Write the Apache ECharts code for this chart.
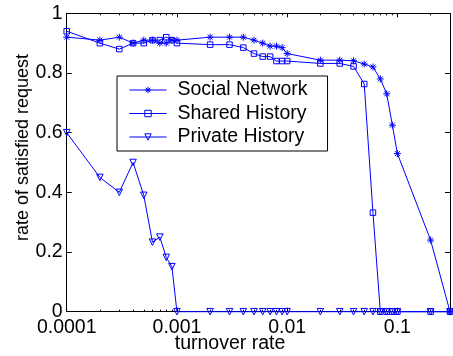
<!DOCTYPE html>
<html>
<head>
<meta charset="utf-8">
<script src="https://cdn.jsdelivr.net/npm/echarts@6/dist/echarts.min.js"></script>
<style>html,body{margin:0;padding:0;background:#fff}#c{width:453px;height:356px}</style>
</head>
<body>
<div id="c"></div>
<script>
const turnover = [0.0001,0.0002,0.0003,0.0004,0.0005,0.0006,0.0007,0.0008,0.0009,
  0.001,0.002,0.003,0.004,0.005,0.006,0.007,0.008,0.009,
  0.01,0.02,0.03,0.04,0.05,0.06,0.07,0.08,0.09,
  0.1,0.2,0.3];
const socialNetwork = [0.92,0.91,0.92,0.90,0.91,0.91,0.90,0.90,0.91,
  0.91,0.92,0.92,0.92,0.91,0.90,0.89,0.89,0.885,
  0.865,0.843,0.843,0.841,0.83,0.82,0.78,0.73,0.625,
  0.53,0.24,0];
const sharedHistory = [0.94,0.90,0.88,0.90,0.90,0.91,0.91,0.92,0.91,
  0.90,0.895,0.895,0.885,0.865,0.855,0.855,0.84,0.84,
  0.84,0.832,0.832,0.822,0.763,0.332,0,0,0,
  0,0,0];
const privateHistory = [0.60,0.45,0.40,0.50,0.39,0.233,0.25,0.182,0.151,
  0,0,0,0,0,0,0,0,0,
  0,0,0,0,0,0,0,0,0,
  0,0,0];
const seriesNames = ['Social Network','Shared History','Private History'];
const xTickValues = [0.0001,0.001,0.01,0.1];
const xTickLabels = ['0.0001','0.001','0.01','0.1'];
const xMinorTicks = [];
[0.0001,0.001,0.01,0.1].forEach(d => { for (let k = 2; k <= 9; k++) { const v = +(d*k).toPrecision(6); if (v <= 0.3) xMinorTicks.push(v); } });

const FONT = 'Liberation Sans';
const BLUE = '#0000ff';
const pairs = ys => turnover.map((x, i) => [x, ys[i]]);
const star = 'path://M0,-5L0,5M-5,0L5,0M-3.5,-3.5L3.5,3.5M-3.5,3.5L3.5,-3.5';

const chart = echarts.init(document.getElementById('c'), null, {renderer: 'canvas'});
const baseX = {type: 'log', logBase: 10, min: 0.0001, max: 0.3, splitLine: {show: false}};
const lineSt = {color: '#000', width: 1};
chart.setOption({
  animation: false,
  backgroundColor: '#fff',
  grid: {left: 66.7, right: 3, top: 13.3, bottom: 44.3},
  xAxis: [
    Object.assign({}, baseX, {position: 'bottom', axisLine: {show: true, lineStyle: lineSt},
      axisTick: {show: true, inside: true, length: 4, customValues: xTickValues, lineStyle: lineSt},
      axisLabel: {show: true, customValues: xTickValues, margin: 6, color: '#000', fontFamily: FONT, fontSize: 19.5,
        formatter: v => { const i = xTickValues.findIndex(t => Math.abs(t - v) / t < 1e-6); return i >= 0 ? xTickLabels[i] : ''; }}}),
    Object.assign({}, baseX, {position: 'bottom', axisLine: {show: false},
      axisTick: {show: true, inside: true, length: 2, customValues: xMinorTicks, lineStyle: lineSt},
      axisLabel: {show: false}}),
    Object.assign({}, baseX, {position: 'top', axisLine: {show: true, lineStyle: lineSt},
      axisTick: {show: true, inside: true, length: 4, customValues: xTickValues, lineStyle: lineSt},
      axisLabel: {show: false}}),
    Object.assign({}, baseX, {position: 'top', axisLine: {show: false},
      axisTick: {show: true, inside: true, length: 2, customValues: xMinorTicks, lineStyle: lineSt},
      axisLabel: {show: false}})
  ],
  yAxis: [
    {type: 'value', min: 0, max: 1, interval: 0.2, position: 'left', splitLine: {show: false},
      axisLine: {show: true, lineStyle: lineSt}, axisTick: {show: true, inside: true, length: 5, lineStyle: lineSt},
      axisLabel: {margin: 4, color: '#000', fontFamily: FONT, fontSize: 19.5}},
    {type: 'value', min: 0, max: 1, interval: 0.2, position: 'right', splitLine: {show: false},
      axisLine: {show: true, lineStyle: lineSt}, axisTick: {show: true, inside: true, length: 5, lineStyle: lineSt},
      axisLabel: {show: false}}
  ],
  legend: {
    orient: 'vertical', left: 117, top: 76,
    data: seriesNames,
    itemWidth: 37, itemHeight: 8, itemGap: 3.5,
    padding: [4, 20, 4, 12],
    borderColor: '#000', borderWidth: 1, backgroundColor: '#fff',
    lineStyle: {width: 1},
    itemStyle: {borderWidth: 1},
    textStyle: {fontFamily: FONT, fontSize: 19.5, color: '#000', padding: [0, 0, 0, 6]}
  },
  graphic: [
    {type: 'text', x: 23, y: 147.5, rotation: Math.PI / 2,
      style: {text: 'rate of satisfied request', font: '18px "Liberation Sans"', fill: '#000', align: 'center', verticalAlign: 'middle'}},
    {type: 'text', x: 230, y: 344,
      style: {text: 'turnover rate', font: '19.5px "Liberation Sans"', fill: '#000', align: 'center', verticalAlign: 'middle'}}
  ],
  series: [
    {name: seriesNames[0], type: 'line', data: pairs(socialNetwork), clip: false,
      symbol: star, symbolSize: 7, lineStyle: {color: BLUE, width: 1},
      itemStyle: {color: BLUE, borderColor: BLUE, borderWidth: 1}},
    {name: seriesNames[1], type: 'line', data: pairs(sharedHistory), clip: false,
      symbol: 'rect', symbolSize: 5.5, lineStyle: {color: BLUE, width: 1},
      itemStyle: {color: 'rgba(0,0,0,0)', borderColor: BLUE, borderWidth: 1}},
    {name: seriesNames[2], type: 'line', data: pairs(privateHistory), clip: false,
      symbol: 'triangle', symbolRotate: 180, symbolSize: 6.5, lineStyle: {color: BLUE, width: 1},
      itemStyle: {color: 'rgba(0,0,0,0)', borderColor: BLUE, borderWidth: 1}}
  ]
});
</script>
</body>
</html>
